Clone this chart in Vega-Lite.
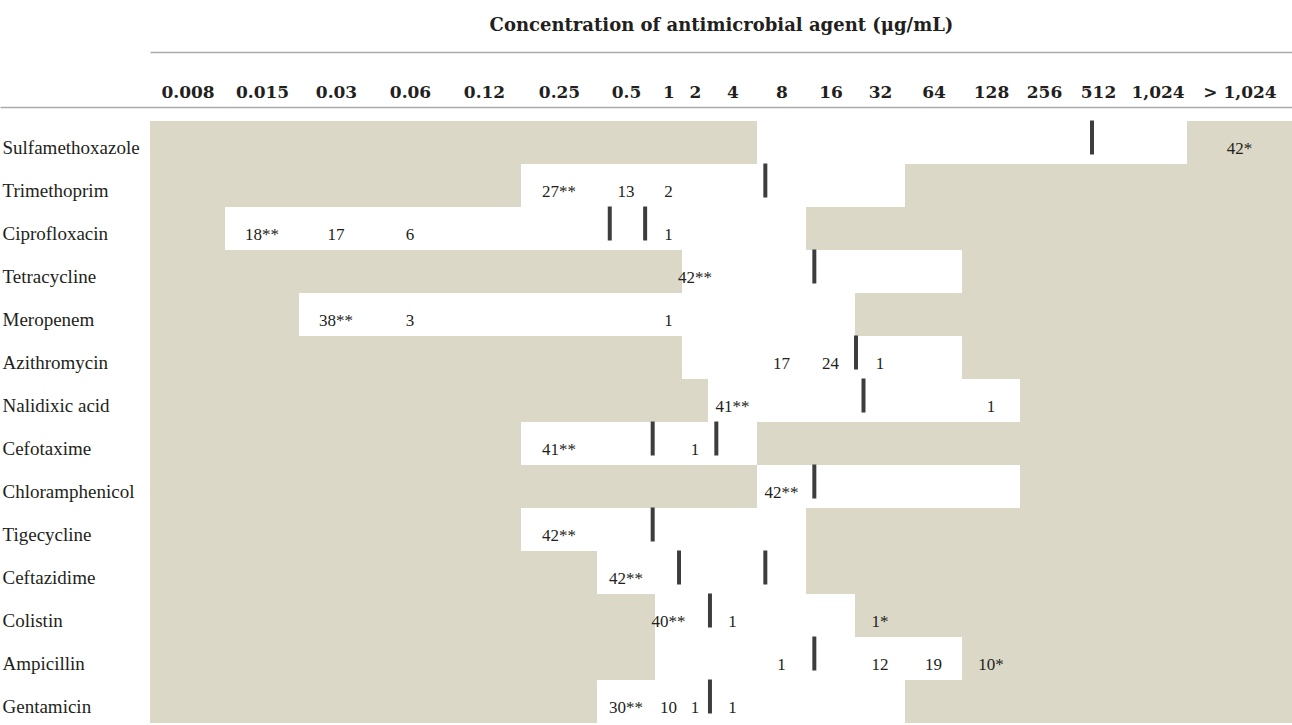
{
  "$schema": "https://vega.github.io/schema/vega-lite/v6.json",
  "width": 1142,
  "height": 603,
  "autosize": {"type": "none"},
  "padding": {"left": 150, "top": 120, "right": 0, "bottom": 2},
  "background": "white",
  "config": {"view": {"stroke": null}},
  "datasets": {
    "dilutions": [
      {"conc": "0.008", "step": 0, "lo": -0.5, "hi": 0.5},
      {"conc": "0.015", "step": 1, "lo": 0.5, "hi": 1.5},
      {"conc": "0.03", "step": 2, "lo": 1.5, "hi": 2.5},
      {"conc": "0.06", "step": 3, "lo": 2.5, "hi": 3.5},
      {"conc": "0.12", "step": 4, "lo": 3.5, "hi": 4.5},
      {"conc": "0.25", "step": 5, "lo": 4.5, "hi": 5.5},
      {"conc": "0.5", "step": 6, "lo": 5.5, "hi": 6.5},
      {"conc": "1", "step": 7, "lo": 6.5, "hi": 7.5},
      {"conc": "2", "step": 8, "lo": 7.5, "hi": 8.5},
      {"conc": "4", "step": 9, "lo": 8.5, "hi": 9.5},
      {"conc": "8", "step": 10, "lo": 9.5, "hi": 10.5},
      {"conc": "16", "step": 11, "lo": 10.5, "hi": 11.5},
      {"conc": "32", "step": 12, "lo": 11.5, "hi": 12.5},
      {"conc": "64", "step": 13, "lo": 12.5, "hi": 13.5},
      {"conc": "128", "step": 14, "lo": 13.5, "hi": 14.5},
      {"conc": "256", "step": 15, "lo": 14.5, "hi": 15.5},
      {"conc": "512", "step": 16, "lo": 15.5, "hi": 16.5},
      {"conc": "1024", "step": 17, "lo": 16.5, "hi": 17.5},
      {"conc": ">1024", "step": 18, "lo": 17.5, "hi": 18.5}
    ],
    "tested": [
      {"drug": "Sulfamethoxazole", "lowest": "8", "highest": "1024"},
      {"drug": "Trimethoprim", "lowest": "0.25", "highest": "32"},
      {"drug": "Ciprofloxacin", "lowest": "0.015", "highest": "8"},
      {"drug": "Tetracycline", "lowest": "2", "highest": "64"},
      {"drug": "Meropenem", "lowest": "0.03", "highest": "16"},
      {"drug": "Azithromycin", "lowest": "2", "highest": "64"},
      {"drug": "Nalidixic acid", "lowest": "4", "highest": "128"},
      {"drug": "Cefotaxime", "lowest": "0.25", "highest": "4"},
      {"drug": "Chloramphenicol", "lowest": "8", "highest": "128"},
      {"drug": "Tigecycline", "lowest": "0.25", "highest": "8"},
      {"drug": "Ceftazidime", "lowest": "0.5", "highest": "8"},
      {"drug": "Colistin", "lowest": "1", "highest": "16"},
      {"drug": "Ampicillin", "lowest": "1", "highest": "64"},
      {"drug": "Gentamicin", "lowest": "0.5", "highest": "32"}
    ],
    "counts": [
      {"drug": "Sulfamethoxazole", "conc": ">1024", "n": "42*"},
      {"drug": "Trimethoprim", "conc": "0.25", "n": "27**"},
      {"drug": "Trimethoprim", "conc": "0.5", "n": "13"},
      {"drug": "Trimethoprim", "conc": "1", "n": "2"},
      {"drug": "Ciprofloxacin", "conc": "0.015", "n": "18**"},
      {"drug": "Ciprofloxacin", "conc": "0.03", "n": "17"},
      {"drug": "Ciprofloxacin", "conc": "0.06", "n": "6"},
      {"drug": "Ciprofloxacin", "conc": "1", "n": "1"},
      {"drug": "Tetracycline", "conc": "2", "n": "42**"},
      {"drug": "Meropenem", "conc": "0.03", "n": "38**"},
      {"drug": "Meropenem", "conc": "0.06", "n": "3"},
      {"drug": "Meropenem", "conc": "1", "n": "1"},
      {"drug": "Azithromycin", "conc": "8", "n": "17"},
      {"drug": "Azithromycin", "conc": "16", "n": "24"},
      {"drug": "Azithromycin", "conc": "32", "n": "1"},
      {"drug": "Nalidixic acid", "conc": "4", "n": "41**"},
      {"drug": "Nalidixic acid", "conc": "128", "n": "1"},
      {"drug": "Cefotaxime", "conc": "0.25", "n": "41**"},
      {"drug": "Cefotaxime", "conc": "2", "n": "1"},
      {"drug": "Chloramphenicol", "conc": "8", "n": "42**"},
      {"drug": "Tigecycline", "conc": "0.25", "n": "42**"},
      {"drug": "Ceftazidime", "conc": "0.5", "n": "42**"},
      {"drug": "Colistin", "conc": "1", "n": "40**"},
      {"drug": "Colistin", "conc": "4", "n": "1"},
      {"drug": "Colistin", "conc": "32", "n": "1*"},
      {"drug": "Ampicillin", "conc": "8", "n": "1"},
      {"drug": "Ampicillin", "conc": "32", "n": "12"},
      {"drug": "Ampicillin", "conc": "64", "n": "19"},
      {"drug": "Ampicillin", "conc": "128", "n": "10*"},
      {"drug": "Gentamicin", "conc": "0.5", "n": "30**"},
      {"drug": "Gentamicin", "conc": "1", "n": "10"},
      {"drug": "Gentamicin", "conc": "2", "n": "1"},
      {"drug": "Gentamicin", "conc": "4", "n": "1"}
    ],
    "breakpoints": [
      {"drug": "Sulfamethoxazole", "pos": 15.9},
      {"drug": "Trimethoprim", "pos": 9.67},
      {"drug": "Ciprofloxacin", "pos": 5.72},
      {"drug": "Ciprofloxacin", "pos": 6.33},
      {"drug": "Tetracycline", "pos": 10.67},
      {"drug": "Azithromycin", "pos": 11.52},
      {"drug": "Nalidixic acid", "pos": 11.67},
      {"drug": "Cefotaxime", "pos": 6.46},
      {"drug": "Cefotaxime", "pos": 8.67},
      {"drug": "Chloramphenicol", "pos": 10.67},
      {"drug": "Tigecycline", "pos": 6.46},
      {"drug": "Ceftazidime", "pos": 7.39},
      {"drug": "Ceftazidime", "pos": 9.67},
      {"drug": "Colistin", "pos": 8.54},
      {"drug": "Ampicillin", "pos": 10.67},
      {"drug": "Gentamicin", "pos": 8.54}
    ]
  },
  "encoding": {
    "y": {
      "field": "drug",
      "type": "nominal",
      "scale": {
        "type": "band",
        "domain": ["Sulfamethoxazole", "Trimethoprim", "Ciprofloxacin", "Tetracycline", "Meropenem", "Azithromycin", "Nalidixic acid", "Cefotaxime", "Chloramphenicol", "Tigecycline", "Ceftazidime", "Colistin", "Ampicillin", "Gentamicin"],
        "paddingInner": 0,
        "paddingOuter": 0,
        "round": true
      },
      "axis": {
        "orient": "left",
        "title": null,
        "ticks": false,
        "tickSize": 0,
        "domain": false,
        "grid": false,
        "labelAlign": "left",
        "labelPadding": 148,
        "labelBaseline": "alphabetic",
        "labelOffset": 11,
        "labelFont": "Liberation Serif",
        "labelFontSize": 19,
        "labelColor": "#231f20",
        "labelLimit": 0
      }
    }
  },
  "layer": [
    {
      "data": {"name": "tested"},
      "mark": {"type": "rect", "fill": "#dbd8c7", "stroke": null},
      "encoding": {
        "x": {
          "datum": 0,
          "type": "quantitative",
          "scale": {"domain": [0, 1], "nice": false, "zero": false},
          "axis": {
            "orient": "top",
            "offset": 68,
            "labels": false,
            "ticks": false,
            "tickSize": 0,
            "grid": false,
            "domain": true,
            "domainColor": "#aaaaaa",
            "domainWidth": 1.5,
            "title": "Concentration of antimicrobial agent (μg/mL)",
            "titleFont": "DejaVu Serif",
            "titleFontWeight": "bold",
            "titleFontSize": 18,
            "titleColor": "#231f20",
            "titlePadding": 18
          }
        },
        "x2": {"datum": 1}
      }
    },
    {
      "data": {"name": "tested"},
      "transform": [
        {"lookup": "lowest", "from": {"data": {"name": "dilutions"}, "key": "conc", "fields": ["lo"]}},
        {"lookup": "highest", "from": {"data": {"name": "dilutions"}, "key": "conc", "fields": ["hi"]}}
      ],
      "mark": {"type": "rect", "fill": "white", "stroke": null},
      "encoding": {
        "x": {
          "field": "lo",
          "type": "quantitative",
          "scale": {
            "type": "linear",
            "domain": [-3.5, -0.5, 0.5, 1.5, 2.5, 3.5, 4.5, 5.5, 6.5, 7.5, 8.5, 9.5, 10.5, 11.5, 12.5, 13.5, 14.5, 15.5, 16.5, 17.5, 18.5],
            "range": [-150, 0, 75, 149, 223, 297, 371, 447, 505, 532, 558, 607, 656, 705, 755, 812, 870, 918, 978, 1037, 1142],
            "nice": false,
            "zero": false
          },
          "axis": {
            "orient": "bottom",
            "offset": -616,
            "values": [0, 1, 2, 3, 4, 5, 6, 7, 8, 9, 10, 11, 12, 13, 14, 15, 16, 17, 18],
            "labelExpr": "['0.008','0.015','0.03','0.06','0.12','0.25','0.5','1','2','4','8','16','32','64','128','256','512','1,024','> 1,024'][datum.value]",
            "labelFont": "DejaVu Serif",
            "labelFontWeight": "bold",
            "labelFontSize": 17,
            "labelColor": "#231f20",
            "labelBaseline": "alphabetic",
            "labelPadding": -10,
            "labelAngle": 0,
            "labelOverlap": false,
            "labelFlush": false,
            "labelBound": false,
            "ticks": false,
            "tickSize": 0,
            "grid": false,
            "domain": true,
            "domainColor": "#aaaaaa",
            "domainWidth": 1.5,
            "title": null
          }
        },
        "x2": {"field": "hi"}
      }
    },
    {
      "data": {"name": "breakpoints"},
      "mark": {"type": "tick", "orient": "vertical", "thickness": 4, "size": 34, "color": "#3d3d3d", "opacity": 1, "yOffset": -5},
      "encoding": {
        "x": {
          "field": "pos",
          "type": "quantitative",
          "scale": {
            "type": "linear",
            "domain": [-3.5, -0.5, 0.5, 1.5, 2.5, 3.5, 4.5, 5.5, 6.5, 7.5, 8.5, 9.5, 10.5, 11.5, 12.5, 13.5, 14.5, 15.5, 16.5, 17.5, 18.5],
            "range": [-150, 0, 75, 149, 223, 297, 371, 447, 505, 532, 558, 607, 656, 705, 755, 812, 870, 918, 978, 1037, 1142],
            "nice": false,
            "zero": false
          },
          "axis": null
        }
      }
    },
    {
      "data": {"name": "counts"},
      "transform": [
        {"lookup": "conc", "from": {"data": {"name": "dilutions"}, "key": "conc", "fields": ["step"]}}
      ],
      "mark": {"type": "text", "font": "Liberation Serif", "fontSize": 17, "color": "#231f20", "align": "center", "baseline": "alphabetic", "dy": 11},
      "encoding": {
        "x": {
          "field": "step",
          "type": "quantitative",
          "scale": {
            "type": "linear",
            "domain": [-3.5, -0.5, 0.5, 1.5, 2.5, 3.5, 4.5, 5.5, 6.5, 7.5, 8.5, 9.5, 10.5, 11.5, 12.5, 13.5, 14.5, 15.5, 16.5, 17.5, 18.5],
            "range": [-150, 0, 75, 149, 223, 297, 371, 447, 505, 532, 558, 607, 656, 705, 755, 812, 870, 918, 978, 1037, 1142],
            "nice": false,
            "zero": false
          },
          "axis": null
        },
        "text": {"field": "n", "type": "nominal"}
      }
    }
  ],
  "resolve": {"scale": {"x": "independent"}, "axis": {"x": "independent"}}
}
